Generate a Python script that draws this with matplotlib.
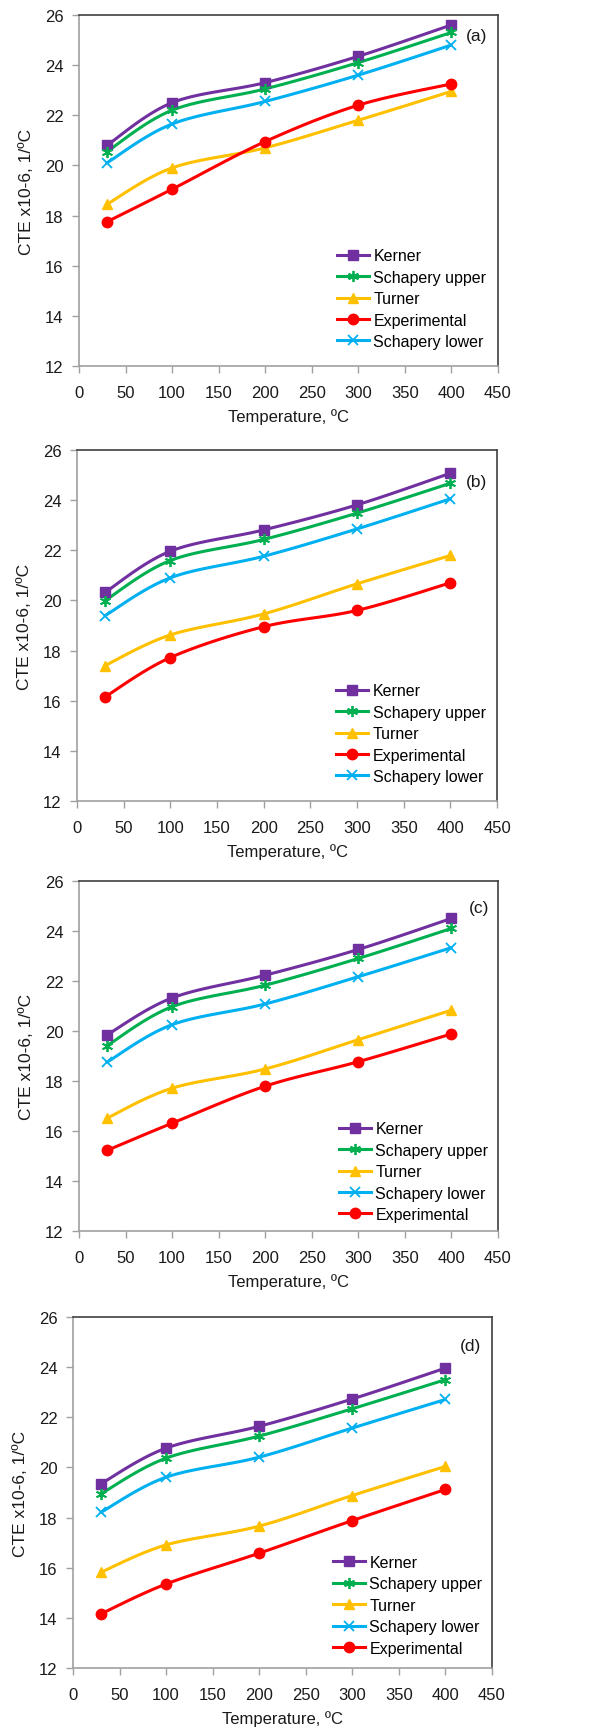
import numpy as np
import matplotlib
matplotlib.use("Agg")
import matplotlib.pyplot as plt

plt.rcParams['font.family'] = ['Liberation Sans', 'DejaVu Sans']

# Data
temps = [30, 100, 200, 300, 400]

kerner_a = [20.8, 22.5, 23.3, 24.35, 25.6]
upper_a = [20.55, 22.2, 23.05, 24.1, 25.3]
turner_a = [18.45, 19.9, 20.7, 21.8, 22.95]
exp_a = [17.75, 19.05, 20.95, 22.4, 23.25]
lower_a = [20.1, 21.65, 22.55, 23.6, 24.8]

kerner_b = [20.32, 21.96, 22.81, 23.81, 25.07]
upper_b = [19.99, 21.59, 22.43, 23.48, 24.67]
turner_b = [17.4, 18.62, 19.46, 20.66, 21.79]
exp_b = [16.15, 17.72, 18.95, 19.6, 20.7]
lower_b = [19.39, 20.9, 21.76, 22.85, 24.05]

kerner_c = [19.84, 21.32, 22.23, 23.26, 24.5]
upper_c = [19.41, 20.97, 21.83, 22.9, 24.1]
turner_c = [16.51, 17.71, 18.48, 19.65, 20.83]
lower_c = [18.75, 20.25, 21.08, 22.17, 23.33]
exp_c = [15.22, 16.31, 17.79, 18.77, 19.88]

kerner_d = [19.35, 20.77, 21.64, 22.73, 23.96]
upper_d = [18.95, 20.37, 21.25, 22.34, 23.5]
turner_d = [15.82, 16.91, 17.66, 18.88, 20.04]
lower_d = [18.21, 19.61, 20.41, 21.57, 22.71]
exp_d = [14.16, 15.35, 16.58, 17.88, 19.12]

xticks = [0, 50, 100, 150, 200, 250, 300, 350, 400, 450]
yticks = [12, 14, 16, 18, 20, 22, 24, 26]

styles = {
    "Kerner": dict(color="#7030A0", marker="s", ms=7),
    "Schapery upper": dict(color="#00B050", marker=(6, 2, 0), ms=8, mew=1.3),
    "Turner": dict(color="#FFC000", marker="^", ms=7.5),
    "Experimental": dict(color="#FF0000", marker="o", ms=7.5),
    "Schapery lower": dict(color="#00B0F0", marker="x", ms=7, mew=1.3),
}

panels = [
    ("(a)", {"Kerner": kerner_a, "Schapery upper": upper_a, "Turner": turner_a,
             "Experimental": exp_a, "Schapery lower": lower_a},
     ["Kerner", "Schapery upper", "Turner", "Experimental", "Schapery lower"]),
    ("(b)", {"Kerner": kerner_b, "Schapery upper": upper_b, "Turner": turner_b,
             "Experimental": exp_b, "Schapery lower": lower_b},
     ["Kerner", "Schapery upper", "Turner", "Experimental", "Schapery lower"]),
    ("(c)", {"Kerner": kerner_c, "Schapery upper": upper_c, "Turner": turner_c,
             "Experimental": exp_c, "Schapery lower": lower_c},
     ["Kerner", "Schapery upper", "Turner", "Schapery lower", "Experimental"]),
    ("(d)", {"Kerner": kerner_d, "Schapery upper": upper_d, "Turner": turner_d,
             "Experimental": exp_d, "Schapery lower": lower_d},
     ["Kerner", "Schapery upper", "Turner", "Schapery lower", "Experimental"]),
]

# axes rectangles (left, bottom, width, height) in figure fraction
rects = [
    [0.1328, 0.788, 0.704, 0.2028],
    [0.1294, 0.5367, 0.706, 0.2028],
    [0.1328, 0.2883, 0.704, 0.2022],
    [0.1227, 0.0358, 0.704, 0.2028],
]
legend_anchor = [(0.615, 0.335), (0.617, 0.335), (0.62, 0.313), (0.62, 0.322)]
tag_pos = [(0.95, 0.94), (0.95, 0.91), (0.955, 0.925), (0.95, 0.92)]


def smooth(x, y, n=25):
    # excel-like smoothed line (bezier through the points)
    pts = np.column_stack([x, y]).astype(float)
    P = np.vstack([pts[0], pts, pts[-1]])
    t = np.linspace(0, 1, n)[:, None]
    out = []
    for i in range(1, len(P) - 2):
        p0, p1, p2, p3 = P[i - 1], P[i], P[i + 1], P[i + 2]
        c1 = p1 + (p2 - p0) / 6
        c2 = p2 - (p3 - p1) / 6
        seg = (1 - t)**3 * p1 + 3 * (1 - t)**2 * t * c1 + 3 * (1 - t) * t**2 * c2 + t**3 * p2
        out.append(seg)
    out = np.vstack(out)
    return out[:, 0], out[:, 1]


fig = plt.figure(figsize=(5.95, 17.31), dpi=100)
axis_gray = "#A0A0A0"
txt = "#1a1a1a"

for k, (tag, data, order) in enumerate(panels):
    ax = fig.add_axes(rects[k])
    for name in order:
        st = styles[name]
        xs, ys = smooth(temps, data[name])
        ax.plot(xs, ys, color=st["color"], lw=2.2, solid_capstyle="round", zorder=3)
        ax.plot(temps, data[name], ls="none", color=st["color"], marker=st["marker"],
                ms=st["ms"], mew=st.get("mew", 1), zorder=4)
        ax.plot([], [], color=st["color"], lw=2.2, marker=st["marker"], ms=st["ms"],
                mew=st.get("mew", 1), label=name)
    ax.set_xlim(0, 450)
    ax.set_ylim(12, 26)
    ax.set_xticks(xticks)
    ax.set_yticks(yticks)
    ax.tick_params(direction="out", length=5, width=1, color=axis_gray,
                   labelsize=12, labelcolor=txt)
    ax.tick_params(axis="x", pad=8.5)
    ax.tick_params(axis="y", pad=6)
    for s in ["left", "bottom"]:
        ax.spines[s].set_color(axis_gray)
        ax.spines[s].set_linewidth(1.2)
    for s in ["top", "right"]:
        ax.spines[s].set_color("#404040")
        ax.spines[s].set_linewidth(1.2)
    ax.set_xlabel("Temperature, ºC", fontsize=12, color=txt, labelpad=6)
    ax.set_ylabel("CTE x10-6, 1/ºC", fontsize=12.5, color=txt, labelpad=8)
    ax.text(tag_pos[k][0], tag_pos[k][1], tag, transform=ax.transAxes, fontsize=12.5,
            color=txt, ha="center", va="center")
    ax.legend(loc="upper left", bbox_to_anchor=legend_anchor[k], frameon=False,
              fontsize=11.5, handlelength=2.0, handletextpad=0.3, labelspacing=0.4,
              borderpad=0, borderaxespad=0)

fig.savefig("out.png", dpi=100)
